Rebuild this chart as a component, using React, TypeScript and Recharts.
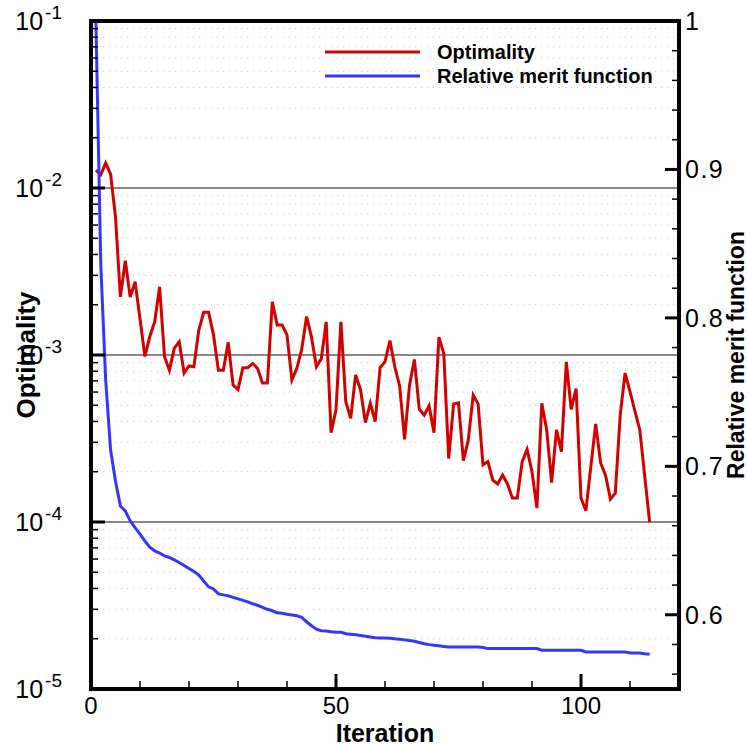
import React from 'react';
import { ComposedChart, Line, XAxis, YAxis, ReferenceLine, ReferenceArea, Legend } from 'recharts';

// optimality per iteration (iterations 1..114)
const optimality = [
  0.0128, 0.012, 0.0141, 0.0121, 0.0067, 0.00223, 0.00367, 0.00222, 0.00275, 0.00165,
  0.00098, 0.00129, 0.00158, 0.00256, 0.00098, 0.00081, 0.0011, 0.0012, 0.00078, 0.00086,
  0.00085, 0.00141, 0.0018, 0.0018, 0.00132, 0.00081, 0.00081, 0.00119, 0.00066, 0.00062,
  0.00084, 0.00084, 0.00089, 0.00083, 0.00068, 0.00068, 0.00208, 0.00151, 0.00151, 0.00132,
  0.00071, 0.00083, 0.00108, 0.0017, 0.00128, 0.00085, 0.00095, 0.00158, 0.000343, 0.00047,
  0.00158, 0.000525, 0.000418, 0.00076, 0.00062, 0.000394, 0.000514, 0.000399, 0.00084, 0.00091,
  0.00122, 0.00085, 0.00065, 0.000313, 0.00066, 0.00094, 0.000473, 0.000437, 0.000496, 0.000343,
  0.00128, 0.00102, 0.00024, 0.000509, 0.000517, 0.000233, 0.00031, 0.000575, 0.000509, 0.00022,
  0.00023, 0.000178, 0.000169, 0.000191, 0.000169, 0.000139, 0.000139, 0.00023, 0.000272, 0.0002,
  0.000121, 0.000514, 0.000356, 0.000172, 0.000356, 0.000264, 0.00091, 0.000473, 0.00063, 0.000139,
  0.000117, 0.000214, 0.000387, 0.000226, 0.000191, 0.000137, 0.000149, 0.000437, 0.00078, 0.000603,
  0.000462, 0.000356, 0.000189, 0.0001,
];

// relative merit function per iteration (right axis)
const meritFunction = [
  1.0, 0.8356, 0.758, 0.711, 0.69, 0.6733, 0.67, 0.6633, 0.6587, 0.6544,
  0.6497, 0.6456, 0.643, 0.6416, 0.6396, 0.6386, 0.637, 0.6352, 0.6332, 0.6312,
  0.6292, 0.6268, 0.6228, 0.6188, 0.6174, 0.6141, 0.6134, 0.6128, 0.6117, 0.6107,
  0.6097, 0.6087, 0.6074, 0.6064, 0.605, 0.6037, 0.6027, 0.6013, 0.601, 0.6003,
  0.5998, 0.5993, 0.5983, 0.5953, 0.5926, 0.5903, 0.5893, 0.589, 0.5886, 0.5883,
  0.5883, 0.5872, 0.5869, 0.5866, 0.5861, 0.5856, 0.5851, 0.5846, 0.5844, 0.5844,
  0.5842, 0.5838, 0.5835, 0.5831, 0.5826, 0.5822, 0.5813, 0.5805, 0.5799, 0.5795,
  0.5791, 0.5787, 0.5783, 0.5783, 0.5783, 0.5783, 0.5783, 0.5783, 0.5783, 0.5779,
  0.5772, 0.5772, 0.5772, 0.5772, 0.5772, 0.5772, 0.5772, 0.5772, 0.5772, 0.5772,
  0.5772, 0.5761, 0.5761, 0.5761, 0.5761, 0.5761, 0.5761, 0.5761, 0.5761, 0.5761,
  0.575, 0.575, 0.575, 0.575, 0.575, 0.575, 0.575, 0.575, 0.575, 0.5743,
  0.5743, 0.5743, 0.5738, 0.5734,
];

const iterTicks = [0, 10, 20, 30, 40, 50, 60, 70, 80, 90, 100, 110, 120];
const iterLabels = [0, 50, 100];

const optMajor = [1e-5, 1e-4, 1e-3, 1e-2, 1e-1];
const optExponents = ['-5', '-4', '-3', '-2', '-1'];
const optMinor = [
  2e-5, 3e-5, 4e-5, 5e-5, 6e-5, 7e-5, 8e-5, 9e-5,
  2e-4, 3e-4, 4e-4, 5e-4, 6e-4, 7e-4, 8e-4, 9e-4,
  2e-3, 3e-3, 4e-3, 5e-3, 6e-3, 7e-3, 8e-3, 9e-3,
  2e-2, 3e-2, 4e-2, 5e-2, 6e-2, 7e-2, 8e-2, 9e-2,
];

const meritTicks = [0.56, 0.58, 0.6, 0.62, 0.64, 0.66, 0.68, 0.7, 0.72, 0.74, 0.76, 0.78, 0.8, 0.82, 0.84, 0.86, 0.88, 0.9, 0.92, 0.94, 0.96, 0.98, 1];
const meritMajor = [0.6, 0.7, 0.8, 0.9, 1];
const meritLabels = ['0.6', '0.7', '0.8', '0.9', '1'];

const data = optimality.map((v, i) => ({ iteration: i + 1, opt: v, merit: meritFunction[i] }));

const FONT = '"Liberation Sans", Arial, Helvetica, sans-serif';
const RED = '#d40000';
const BLUE = '#3535ff';

function IterTick(props: any) {
  const { x, y, payload } = props;
  const major = iterLabels.includes(payload.value);
  return (
    <g>
      <line x1={x} y1={y} x2={x} y2={y - (major ? 15 : 8)} stroke="#000" strokeWidth={major ? 3 : 1.5} />
      {major && (
        <text x={x} y={y + 25} textAnchor="middle" fontFamily={FONT} fontSize={24} fill="#000">
          {payload.value}
        </text>
      )}
    </g>
  );
}

function OptTick(props: any) {
  const { x, y, payload } = props;
  const idx = optMajor.indexOf(payload.value);
  const major = idx >= 0;
  return (
    <g>
      <line x1={x} y1={y} x2={x + (major ? 14 : 7)} y2={y} stroke="#000" strokeWidth={major ? 3 : 1.5} />
      {major && (
        <text x={x - 29} y={y + 9} textAnchor="end" fontFamily={FONT} fontSize={25} fill="#000">
          10
          <tspan dx={2} dy={-11} fontSize={19}>{optExponents[idx]}</tspan>
        </text>
      )}
    </g>
  );
}

function MeritTick(props: any) {
  const { x, y, payload } = props;
  const idx = meritMajor.indexOf(payload.value);
  const major = idx >= 0;
  return (
    <g>
      <line x1={x} y1={y} x2={x - (major ? 14 : 7)} y2={y} stroke="#000" strokeWidth={major ? 3 : 1.5} />
      {major && (
        <text x={x + 6} y={y + 9} textAnchor="start" fontFamily={FONT} fontSize={25} letterSpacing={1.5} fill="#000">
          {meritLabels[idx]}
        </text>
      )}
    </g>
  );
}

function renderLegend(props: any) {
  const items = props.payload || [];
  return (
    <svg width={360} height={56}>
      {items.map((it: any, i: number) => (
        <g key={i}>
          <line x1={5} x2={100} y1={14 + i * 24} y2={14 + i * 24} stroke={it.color} strokeWidth={3} />
          <text x={117} y={21 + i * 24} fontFamily={FONT} fontWeight="bold" fontSize={20} fill="#000">
            {it.value}
          </text>
        </g>
      ))}
    </svg>
  );
}

export default function App() {
  return (
    <div style={{ position: 'absolute', left: 0, top: 0, background: '#fff' }}>
      <ComposedChart width={748} height={746} data={data} margin={{ top: 21, right: 0, bottom: 0, left: 0 }}>
        <XAxis
          dataKey="iteration"
          type="number"
          domain={[0, 120]}
          ticks={iterTicks}
          allowDataOverflow
          height={57}
          axisLine={false}
          tickLine={false}
          tickSize={0}
          tickMargin={0}
          tick={<IterTick />}
          interval={0}
          label={() => (
            <text x={385} y={742} textAnchor="middle" fontFamily={FONT} fontWeight="bold" fontSize={25} fill="#000">
              Iteration
            </text>
          )}
        />
        <YAxis
          yAxisId="opt"
          type="number"
          scale="log"
          domain={[1e-5, 1e-1]}
          ticks={[...optMajor, ...optMinor]}
          allowDataOverflow
          width={91}
          axisLine={false}
          tickLine={false}
          tickSize={0}
          tickMargin={0}
          tick={<OptTick />}
          interval={0}
          label={() => (
            <text x={35} y={355} transform="rotate(-90 35 355)" textAnchor="middle" fontFamily={FONT} fontWeight="bold" fontSize={26} fill="#000">
              Optimality
            </text>
          )}
        />
        <YAxis
          yAxisId="merit"
          orientation="right"
          type="number"
          domain={[0.55, 1]}
          ticks={meritTicks}
          allowDataOverflow
          width={69}
          axisLine={false}
          tickLine={false}
          tickSize={0}
          tickMargin={0}
          tick={<MeritTick />}
          interval={0}
          label={() => (
            <text x={744} y={355} transform="rotate(-90 744 355)" textAnchor="middle" fontFamily={FONT} fontWeight="bold" fontSize={23} fill="#000">
              Relative merit function
            </text>
          )}
        />
        {optMinor.map((v) => (
          <ReferenceLine key={'m' + v} yAxisId="opt" y={v} stroke="#c8c8c8" strokeWidth={1} strokeDasharray="1 5" />
        ))}
        {[1e-4, 1e-3, 1e-2].map((v) => (
          <ReferenceLine key={'M' + v} yAxisId="opt" y={v} stroke="#111" strokeWidth={1} />
        ))}
        <Legend
          verticalAlign="middle"
          align="center"
          layout="horizontal"
          content={renderLegend}
          wrapperStyle={{ position: 'absolute', top: 38, left: 320, width: 360, height: 56 }}
        />
        <Line
          yAxisId="opt"
          dataKey="opt"
          name="Optimality"
          stroke={RED}
          strokeWidth={3}
          dot={false}
          activeDot={false}
          isAnimationActive={false}
          strokeLinejoin="miter"
        />
        <Line
          yAxisId="merit"
          dataKey="merit"
          name="Relative merit function"
          stroke={BLUE}
          strokeWidth={3}
          dot={false}
          activeDot={false}
          isAnimationActive={false}
        />
        <ReferenceArea yAxisId="merit" x1={0} x2={120} y1={0.55} y2={1} fill="none" stroke="#000" strokeWidth={4} />
      </ComposedChart>
    </div>
  );
}
